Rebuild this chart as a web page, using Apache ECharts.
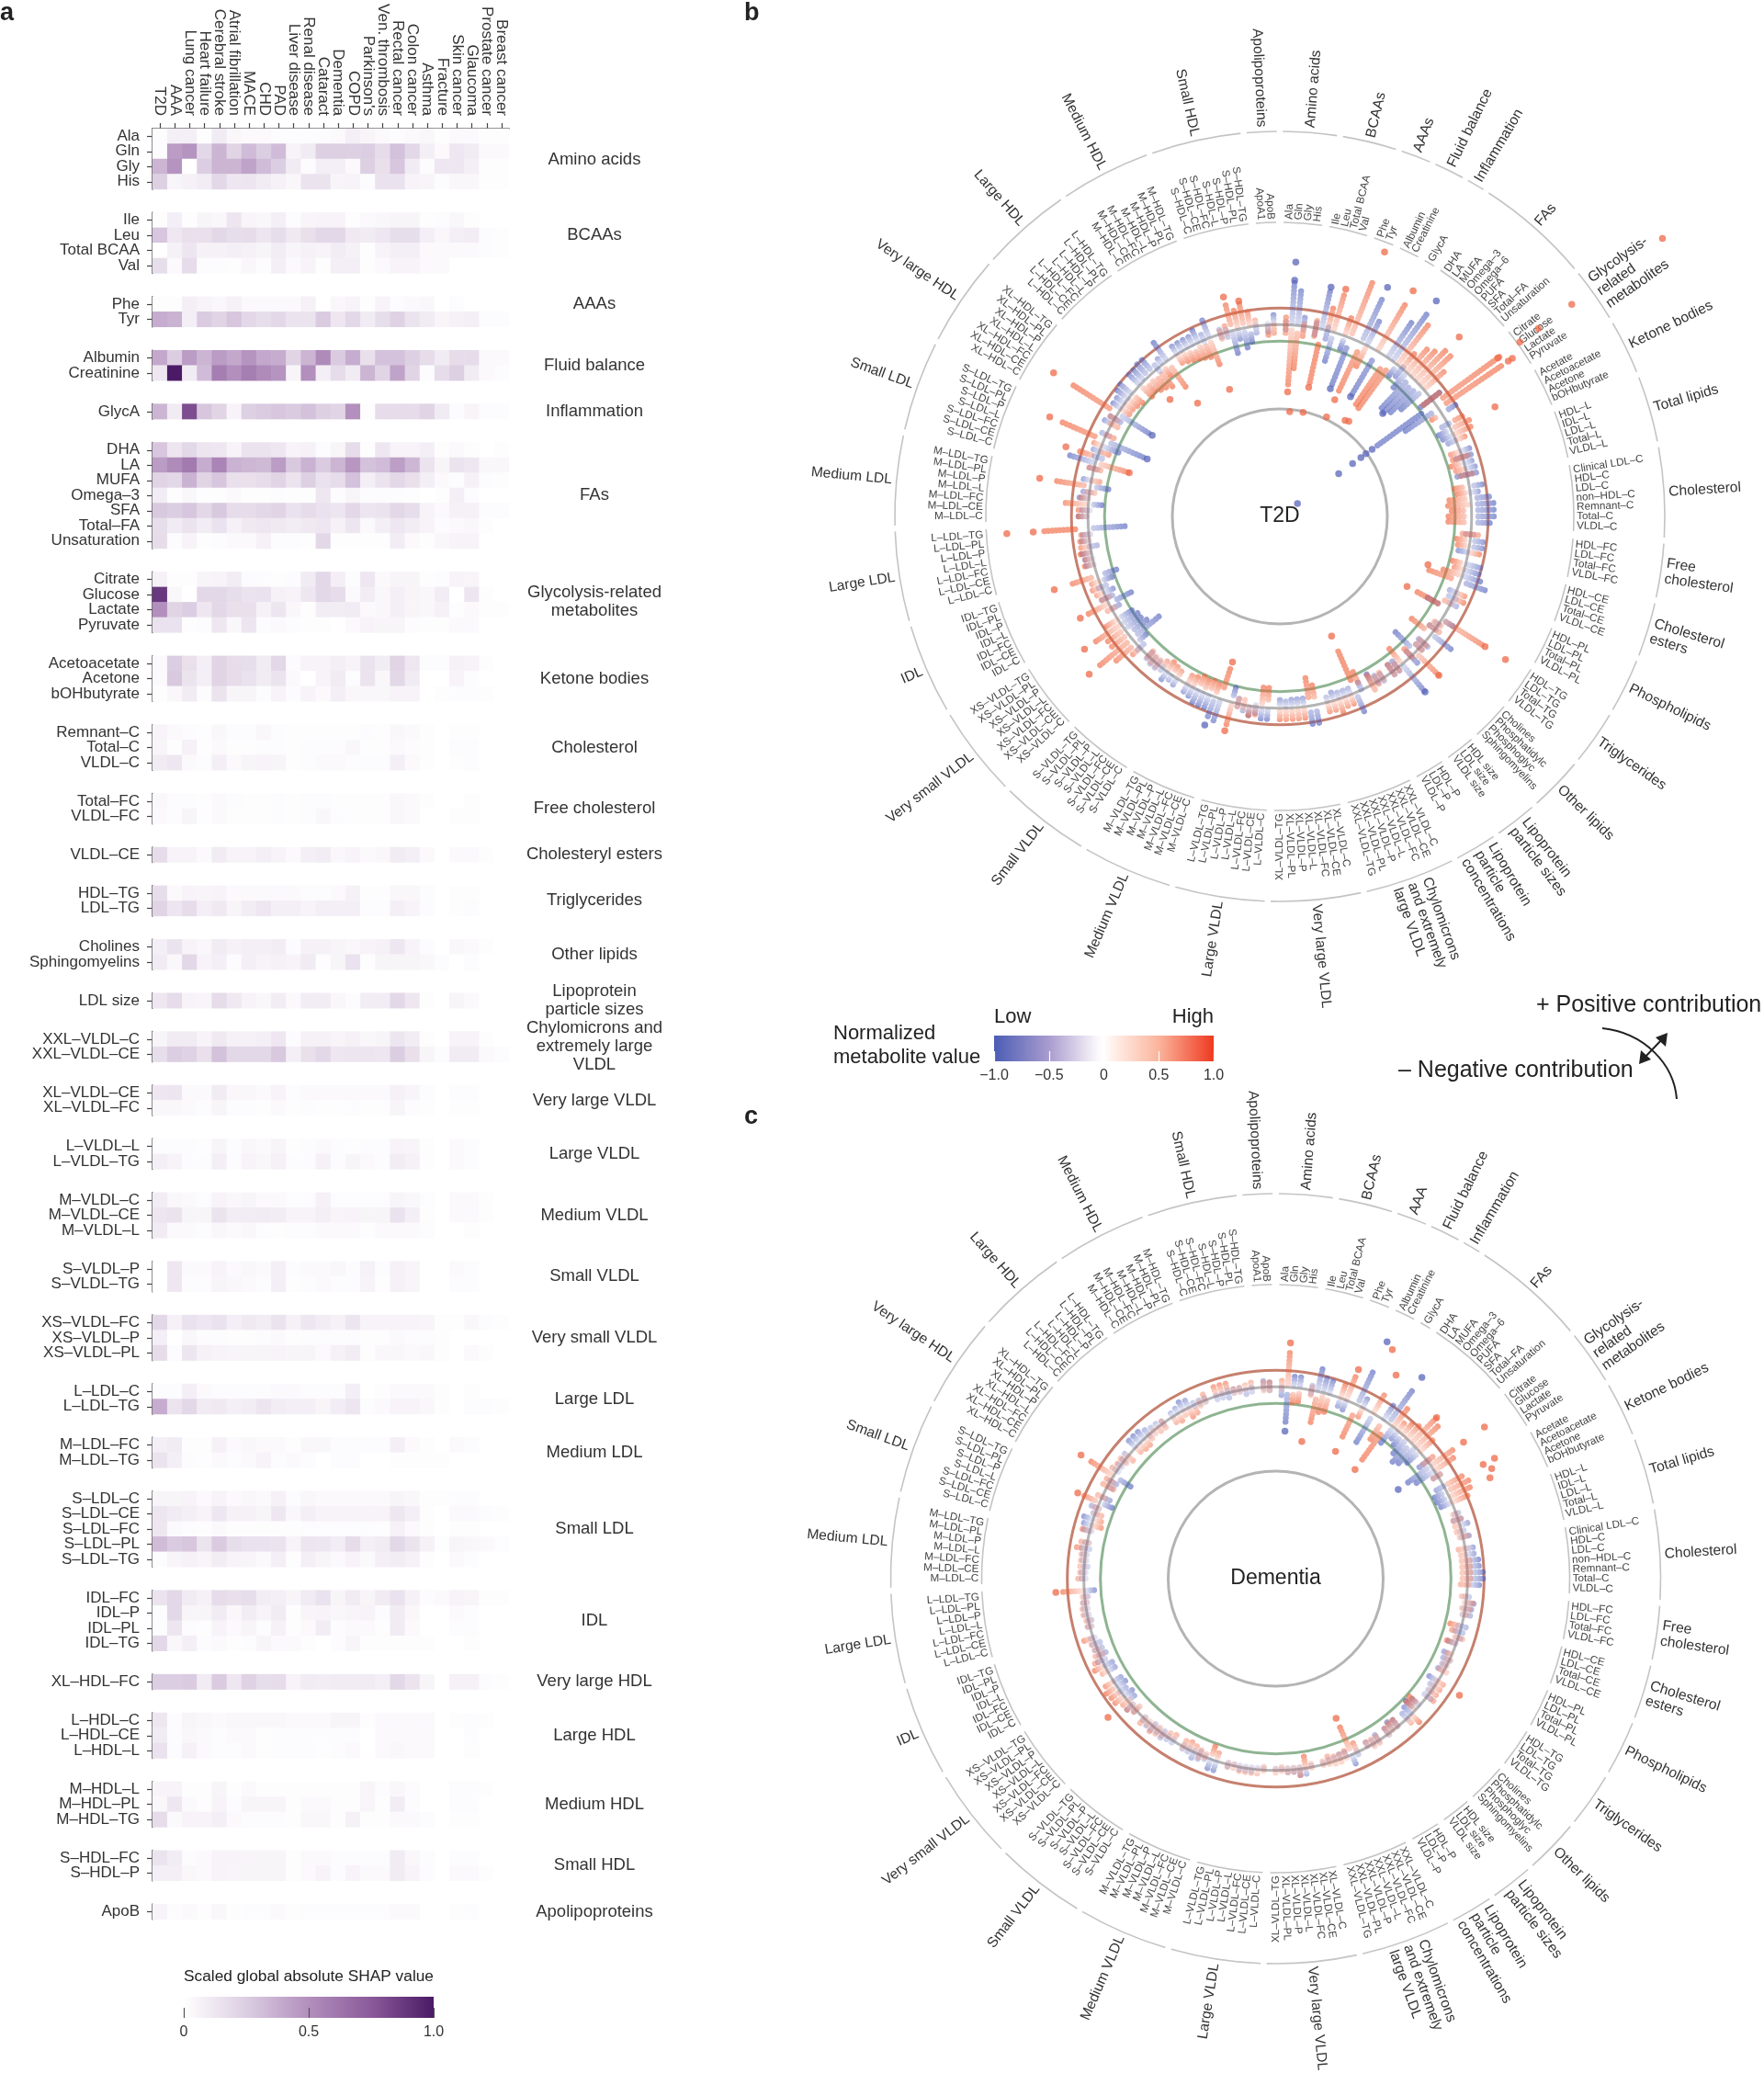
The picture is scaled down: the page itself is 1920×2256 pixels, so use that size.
<!DOCTYPE html>
<html>
<head>
<meta charset="utf-8">
<title>Metabolite SHAP overview</title>
<script src="https://cdn.jsdelivr.net/npm/echarts@6/dist/echarts.min.js"></script>
<style>
  html, body { margin: 0; padding: 0; background: #fff; }
  #chart { width: 1920px; height: 2256px; }
</style>
</head>
<body>
<div id="chart"></div>
<script>
const diseases = ['T2D', 'AAA', 'Lung cancer', 'Heart failure', 'Cerebral stroke', 'Atrial fibrillation', 'MACE', 'CHD', 'PAD', 'Liver disease', 'Renal disease', 'Cataract', 'Dementia', 'COPD', "Parkinson's", 'Ven. thrombosis', 'Rectal cancer', 'Colon cancer', 'Asthma', 'Fracture', 'Skin cancer', 'Glaucoma', 'Prostate cancer', 'Breast cancer']

// panel a: group label, row labels, scaled SHAP x100 (one list per row, one value per disease)
const aminoRows = ['Ala', 'Gln', 'Gly', 'His']
const aminoVals = [[2,8,8,1,10,4,3,3,2,2,2,2,3,8,5,3,2,3,4,1,3,3,1,1],[2,45,48,20,35,22,32,25,32,6,10,24,24,24,25,18,30,20,8,3,12,10,3,3],[35,48,0,25,35,35,42,32,25,10,2,8,8,3,24,16,28,10,2,12,12,8,1,1],[24,5,7,9,20,12,13,10,7,4,14,14,5,6,2,15,15,6,5,2,4,4,1,1]]
const bcaaRows = ['Ile', 'Leu', 'Total BCAA', 'Val']
const bcaaVals = [[1,8,1,5,4,13,5,4,8,2,5,6,6,1,3,4,5,5,1,2,4,1,0,0],[28,12,16,16,20,17,18,13,17,11,16,20,20,11,10,12,17,17,8,4,8,9,2,1],[0,7,13,7,7,8,7,5,9,5,7,6,9,7,1,6,8,8,3,3,3,3,2,1],[17,3,18,2,2,1,4,2,8,3,6,1,8,8,1,3,6,6,3,3,0,0,0,0]]
const aaaRows = ['Phe', 'Tyr']
const aaaVals = [[1,1,8,6,4,7,3,3,3,3,7,0,4,6,1,6,2,3,4,0,2,0,0,0],[38,36,8,26,22,28,20,17,20,14,14,26,12,20,10,17,23,14,10,5,7,8,2,2]]
const fluidRows = ['Albumin', 'Creatinine']
const fluidVals = [[40,25,45,35,45,40,48,40,38,22,35,52,26,38,16,30,30,24,18,10,18,18,3,3],[12,100,10,32,58,50,58,52,48,5,50,8,18,10,35,22,42,22,2,18,24,10,3,2]]
const inflamRows = ['GlycA']
const inflamVals = [[35,10,80,28,22,6,24,26,28,26,30,24,22,50,1,18,18,18,22,10,2,5,2,2]]
const faRows = ['DHA', 'LA', 'MUFA', 'Omega–3', 'SFA', 'Total–FA', 'Unsaturation']
const faVals = [[28,13,20,13,12,6,14,14,12,6,7,2,5,18,1,12,6,6,8,1,3,1,0,1],[45,52,60,38,55,36,34,33,45,27,36,26,35,47,30,32,44,34,14,5,14,12,4,4],[22,20,36,22,28,16,16,18,22,14,24,15,18,30,8,14,20,16,8,3,2,7,2,1],[9,1,4,1,1,3,1,1,2,1,1,12,2,5,2,2,2,1,0,1,8,2,0,0],[27,25,28,20,27,18,18,20,22,15,18,15,13,20,13,14,20,17,6,3,7,7,2,2],[17,10,14,9,15,7,11,12,11,9,11,12,7,13,3,8,12,9,6,2,3,4,1,0],[18,2,6,1,2,3,3,7,2,2,1,20,1,1,1,1,9,3,1,4,6,6,0,0]]
const glycoRows = ['Citrate', 'Glucose', 'Lactate', 'Pyruvate']
const glycoVals = [[7,1,1,5,6,9,2,2,1,2,10,20,8,2,12,3,5,5,1,2,6,5,0,0],[88,4,0,20,20,17,14,15,7,6,12,20,18,3,9,4,8,5,4,9,0,13,1,0],[50,22,25,12,20,16,16,7,13,4,1,9,9,10,3,4,8,5,4,7,1,3,1,1],[15,15,1,2,12,4,13,2,3,2,1,1,0,3,6,5,5,2,1,1,3,3,0,0]]
const ketoneRows = ['Acetoacetate', 'Acetone', 'bOHbutyrate']
const ketoneVals = [[3,25,16,8,22,18,17,10,20,2,6,6,8,6,14,9,22,12,2,2,7,6,1,0],[3,27,14,8,22,18,15,10,14,3,0,6,10,2,14,4,20,10,0,0,6,2,0,0],[1,4,10,2,14,5,5,2,6,2,6,3,8,4,4,4,6,6,0,1,2,2,1,0]]
const cholRows = ['Remnant–C', 'Total–C', 'VLDL–C']
const cholVals = [[6,3,2,1,4,2,2,4,2,1,1,1,1,1,2,1,4,3,1,0,1,1,0,0],[5,1,7,1,3,1,1,2,2,1,2,2,2,4,1,1,3,2,1,0,2,2,0,0],[10,12,3,2,8,3,5,6,5,1,2,3,3,2,2,2,8,3,1,0,1,2,0,0]]
const freeRows = ['Total–FC', 'VLDL–FC']
const freeVals = [[4,2,2,1,3,2,1,1,2,1,2,2,1,1,1,1,4,3,1,0,0,1,0,0],[3,2,5,1,3,1,1,1,2,1,2,4,2,1,1,1,4,3,0,0,1,1,0,0]]
const esterRows = ['VLDL–CE']
const esterVals = [[18,6,6,3,10,6,6,8,6,3,8,9,4,6,3,4,10,8,3,0,3,3,1,0]]
const tgRows = ['HDL–TG', 'LDL–TG']
const tgVals = [[17,3,6,5,6,3,3,3,3,3,2,2,3,7,1,1,4,4,2,0,1,1,0,0],[22,13,18,8,11,5,9,12,8,8,6,8,8,8,2,2,8,6,2,0,1,2,0,0]]
const otherRows = ['Cholines', 'Sphingomyelins']
const otherVals = [[8,14,6,4,10,7,8,8,9,2,7,7,5,4,6,7,12,6,2,0,4,3,1,0],[10,4,20,6,8,2,8,6,7,6,10,1,5,15,1,5,5,5,4,2,0,2,0,0]]
const sizeRows = ['LDL size']
const sizeVals = [[12,18,6,5,18,11,6,4,9,3,9,9,4,2,9,9,20,12,1,0,5,3,0,0]]
const chyloRows = ['XXL–VLDL–C', 'XXL–VLDL–CE']
const chyloVals = [[5,10,10,6,11,7,7,8,12,2,7,7,5,7,4,5,13,9,1,0,6,6,1,0],[17,25,23,16,30,20,20,20,27,8,16,20,12,13,13,12,25,16,5,2,10,10,3,2]]
const xlVldlRows = ['XL–VLDL–CE', 'XL–VLDL–FC']
const xlVldlVals = [[12,13,3,3,10,4,4,3,6,2,3,3,3,3,3,3,7,5,2,0,2,2,0,0],[4,4,3,2,5,2,2,1,3,1,2,1,1,2,1,1,5,2,1,0,1,1,0,0]]
const lVldlRows = ['L–VLDL–L', 'L–VLDL–TG']
const lVldlVals = [[2,2,2,1,5,2,4,3,5,1,2,3,2,1,2,2,6,5,1,0,3,2,0,0],[8,6,2,2,8,2,6,4,7,2,2,7,2,5,3,2,9,7,1,0,3,2,0,0]]
const mVldlRows = ['M–VLDL–C', 'M–VLDL–CE', 'M–VLDL–L']
const mVldlVals = [[9,4,3,2,6,4,5,3,3,2,2,7,2,2,2,2,5,4,2,0,3,3,1,0],[13,14,5,5,14,9,9,10,9,6,6,8,5,6,5,5,15,8,1,0,3,3,1,0],[10,3,3,2,4,3,4,2,1,2,2,3,3,3,1,3,3,3,2,0,0,1,0,0]]
const sVldlRows = ['S–VLDL–P', 'S–VLDL–TG']
const sVldlVals = [[0,12,3,3,6,3,4,3,8,2,3,3,4,2,7,2,7,5,0,0,3,2,0,0],[0,12,2,2,5,4,3,2,8,1,2,3,2,2,6,1,7,5,0,0,2,2,0,0]]
const xsVldlRows = ['XS–VLDL–FC', 'XS–VLDL–P', 'XS–VLDL–PL']
const xsVldlVals = [[20,7,15,12,15,8,11,9,14,7,12,9,7,13,6,6,6,6,5,1,1,4,2,1],[8,0,4,2,2,1,1,2,3,1,2,2,2,2,1,1,3,2,2,1,0,0,0,0],[18,2,13,7,6,5,5,5,6,5,5,3,7,9,1,4,4,3,4,1,0,3,1,0]]
const lLdlRows = ['L–LDL–C', 'L–LDL–TG']
const lLdlVals = [[2,2,8,3,2,2,2,2,3,3,2,2,2,8,0,1,3,3,3,1,0,1,0,0],[38,14,20,10,11,8,9,13,9,8,8,5,9,13,2,3,6,6,4,1,0,2,2,1]]
const mLdlRows = ['M–LDL–FC', 'M–LDL–TG']
const mLdlVals = [[8,10,1,1,7,3,4,3,3,1,4,4,2,2,2,2,8,3,1,0,3,2,0,0],[14,8,2,1,3,2,3,6,2,3,2,0,2,2,0,0,1,1,1,1,0,0,0,0]]
const sLdlRows = ['S–LDL–C', 'S–LDL–CE', 'S–LDL–FC', 'S–LDL–PL', 'S–LDL–TG']
const sLdlVals = [[5,5,6,3,6,3,4,3,7,2,4,3,3,3,3,3,5,4,1,1,2,2,0,0],[13,10,8,6,12,7,7,5,12,4,8,6,6,6,6,6,12,8,1,0,3,3,2,1],[12,3,2,1,3,1,1,1,1,1,2,2,2,2,2,1,7,3,1,0,1,1,0,0],[32,26,28,14,26,17,15,15,14,6,13,12,9,18,8,10,20,14,7,1,5,4,3,2],[2,5,7,5,9,6,5,3,8,1,8,5,3,6,3,8,9,7,1,0,3,2,0,0]]
const idlRows = ['IDL–FC', 'IDL–P', 'IDL–PL', 'IDL–TG']
const idlVals = [[14,20,10,7,18,16,17,9,8,5,10,15,5,10,5,10,15,7,2,3,6,5,1,1],[2,20,5,5,10,4,9,6,10,1,5,6,4,5,6,2,10,4,0,0,3,2,0,0],[2,13,2,1,6,3,5,2,7,1,3,9,2,3,3,1,10,3,0,0,2,2,0,0],[20,4,8,2,3,1,2,5,3,3,1,0,2,5,1,1,1,1,1,0,0,1,0,0]]
const xlHdlRows = ['XL–HDL–FC']
const xlHdlVals = [[25,25,26,10,26,12,23,17,18,6,10,9,10,10,10,8,20,14,5,0,7,7,2,1]]
const lHdlRows = ['L–HDL–C', 'L–HDL–CE', 'L–HDL–L']
const lHdlVals = [[12,2,5,4,3,4,4,4,4,3,3,3,5,5,1,3,3,3,3,0,1,2,1,0],[10,2,4,3,2,3,3,1,2,2,2,2,2,2,0,3,3,3,3,0,0,2,0,0],[15,2,7,3,2,2,3,1,2,2,2,1,2,3,0,3,4,3,3,0,0,1,0,0]]
const mHdlRows = ['M–HDL–L', 'M–HDL–PL', 'M–HDL–TG']
const mHdlVals = [[6,6,1,1,5,1,3,1,1,1,1,1,1,1,5,2,4,2,0,0,2,2,1,0],[4,12,3,1,6,2,5,5,5,1,3,3,1,1,5,1,9,2,0,0,2,2,0,0],[18,3,6,6,8,3,2,2,2,1,4,4,1,7,1,1,3,3,2,0,1,1,0,0]]
const sHdlRows = ['S–HDL–FC', 'S–HDL–P']
const sHdlVals = [[14,9,2,3,6,6,5,5,5,1,3,3,2,2,2,2,10,4,2,0,2,2,0,0],[8,8,4,3,6,5,5,5,5,1,3,6,2,6,3,3,10,6,2,0,3,3,1,0]]
const apoRows = ['ApoB']
const apoVals = [[6,2,3,1,4,1,2,2,3,1,2,2,2,2,2,2,3,3,0,0,1,2,0,0]]

// the last value moves a group label up from the middle of its rows
const heatGroups = [
  ['Amino acids', aminoRows, aminoVals, -1], ['BCAAs', bcaaRows, bcaaVals, 8], ['AAAs', aaaRows, aaaVals, 8],
  ['Fluid balance', fluidRows, fluidVals], ['Inflammation', inflamRows, inflamVals], ['FAs', faRows, faVals],
  ['Glycolysis-related\nmetabolites', glycoRows, glycoVals], ['Ketone bodies', ketoneRows, ketoneVals],
  ['Cholesterol', cholRows, cholVals], ['Free cholesterol', freeRows, freeVals], ['Cholesteryl esters', esterRows, esterVals],
  ['Triglycerides', tgRows, tgVals], ['Other lipids', otherRows, otherVals], ['Lipoprotein\nparticle sizes', sizeRows, sizeVals],
  ['Chylomicrons and\nextremely large\nVLDL', chyloRows, chyloVals], ['Very large VLDL', xlVldlRows, xlVldlVals],
  ['Large VLDL', lVldlRows, lVldlVals], ['Medium VLDL', mVldlRows, mVldlVals], ['Small VLDL', sVldlRows, sVldlVals],
  ['Very small VLDL', xsVldlRows, xsVldlVals], ['Large LDL', lLdlRows, lLdlVals], ['Medium LDL', mLdlRows, mLdlVals],
  ['Small LDL', sLdlRows, sLdlVals], ['IDL', idlRows, idlVals], ['Very large HDL', xlHdlRows, xlHdlVals],
  ['Large HDL', lHdlRows, lHdlVals], ['Medium HDL', mHdlRows, mHdlVals], ['Small HDL', sHdlRows, sHdlVals],
  ['Apolipoproteins', apoRows, apoVals]
]

// panels b and c: metabolites clockwise from the top, one blank slot after each group
const lipoSuffix = ['C', 'CE', 'FC', 'L', 'P', 'PL', 'TG']
const lipo = prefix => lipoSuffix.map(s => prefix + '–' + s)
const ringGroups = [
  ['Amino acids', ['Ala', 'Gln', 'Gly', 'His']],
  ['BCAAs', ['Ile', 'Leu', 'Total BCAA', 'Val']],
  ['AAAs', ['Phe', 'Tyr']],
  ['Fluid balance', ['Albumin', 'Creatinine']],
  ['Inflammation', ['GlycA']],
  ['FAs', ['DHA', 'LA', 'MUFA', 'Omega–3', 'Omega–6', 'PUFA', 'SFA', 'Total–FA', 'Unsaturation']],
  ['Glycolysis-\nrelated\nmetabolites', ['Citrate', 'Glucose', 'Lactate', 'Pyruvate']],
  ['Ketone bodies', ['Acetate', 'Acetoacetate', 'Acetone', 'bOHbutyrate']],
  ['Total lipids', ['HDL–L', 'IDL–L', 'LDL–L', 'Total–L', 'VLDL–L']],
  ['Cholesterol', ['Clinical LDL–C', 'HDL–C', 'LDL–C', 'non–HDL–C', 'Remnant–C', 'Total–C', 'VLDL–C']],
  ['Free\ncholesterol', ['HDL–FC', 'LDL–FC', 'Total–FC', 'VLDL–FC']],
  ['Cholesterol\nesters', ['HDL–CE', 'LDL–CE', 'Total–CE', 'VLDL–CE']],
  ['Phospholipids', ['HDL–PL', 'LDL–PL', 'Total–PL', 'VLDL–PL']],
  ['Triglycerides', ['HDL–TG', 'LDL–TG', 'Total–TG', 'VLDL–TG']],
  ['Other lipids', ['Cholines', 'Phosphatidylc', 'Phosphoglyc', 'Sphingomyelins']],
  ['Lipoprotein\nparticle sizes', ['HDL size', 'LDL size', 'VLDL size']],
  ['Lipoprotein\nparticle\nconcentrations', ['HDL–P', 'LDL–P', 'VLDL–P']],
  ['Chylomicrons\nand extremely\nlarge VLDL', lipo('XXL–VLDL')],
  ['Very large VLDL', lipo('XL–VLDL')],
  ['Large VLDL', lipo('L–VLDL')],
  ['Medium VLDL', lipo('M–VLDL')],
  ['Small VLDL', lipo('S–VLDL')],
  ['Very small VLDL', lipo('XS–VLDL')],
  ['IDL', lipo('IDL')],
  ['Large LDL', lipo('L–LDL')],
  ['Medium LDL', lipo('M–LDL')],
  ['Small LDL', lipo('S–LDL')],
  ['Very large HDL', lipo('XL–HDL')],
  ['Large HDL', lipo('L–HDL')],
  ['Medium HDL', lipo('M–HDL')],
  ['Small HDL', lipo('S–HDL')],
  ['Apolipoproteins', ['ApoA1', 'ApoB']]
]

// SHAP x100 per metabolite: low-value range [lo, hi], high-value range [lo, hi]
const t2dRanges = [
  [-15,10,-25,30],[10,135,-180,-10],[10,115,-130,-15],[-10,30,-30,15],
  [-20,20,-25,25],[10,120,-165,-40],[-25,15,10,70],[-90,-10,10,125],
  [-40,-10,10,60],[-150,-30,15,190],
  [15,155,-160,-30],[10,90,-70,-10],
  [-150,-30,10,165],
  [10,130,-170,-30],[10,175,-175,-30],[-40,-10,10,155],[-30,10,10,60],[-60,-10,10,100],[-130,-20,10,110],[-135,-20,10,130],[-120,-20,10,135],[-90,-15,10,90],
  [-40,40,-30,30],[-215,-50,30,245],[-120,-20,30,235],[25,55,-35,-15],
  [-20,15,25,60],[-40,-5,15,70],[-35,0,10,60],[-25,5,5,35],
  [5,35,-30,-5],[-20,30,-30,20],[0,35,-40,-5],[5,40,-30,5],[-30,30,-20,20],
  [15,45,-45,-15],[0,30,-40,-10],[20,65,-65,-10],[20,70,-70,-10],[20,70,-60,-15],[20,75,-70,-15],[20,60,-70,-15],
  [-15,10,-25,25],[15,50,-40,-10],[15,50,-35,-5],[-30,5,10,35],
  [10,55,-40,-10],[10,50,-30,0],[10,60,-60,-10],[20,85,-100,-25],
  [-20,5,5,30],[-15,10,10,35],[-5,20,-20,5],[-70,-25,-105,-30],
  [15,50,15,155],[-10,10,-15,15],[-20,10,-20,20],[15,80,-75,-20],
  [-20,20,-15,20],[-15,15,-15,20],[-85,-15,15,100],[-20,30,-30,15],
  [10,105,-60,-10],[-25,15,-15,20],[-25,15,-25,15],
  [-15,15,-20,10],[-20,15,-15,20],[-35,-5,-30,20],
  [-25,10,-60,-15],[15,65,-135,-40],[-20,-5,5,35],[-20,-5,5,40],[-20,-5,5,45],[-25,-5,5,40],[-15,0,5,30],
  [20,60,-60,-15],[20,60,-85,-25],[-25,-5,10,40],[-25,-8,10,45],[-25,-8,10,45],[-20,-5,10,45],[-25,-5,10,40],
  [10,35,-60,-15],[10,40,-60,-10],[-5,25,0,25],[5,35,5,30],[5,25,-15,10],[-15,10,-15,15],[-45,-15,10,70],
  [10,80,-95,-30],[15,70,-40,-10],[5,45,-45,-10],[5,45,-40,-10],[5,45,-45,-10],[5,40,-35,-10],[0,30,-30,-5],
  [10,30,-25,-5],[5,25,-30,-10],[5,30,-35,-5],[-5,15,-25,-5],[-10,15,-15,10],[-10,15,-15,15],[-15,15,-20,15],
  [-15,15,5,30],[-40,-10,20,90],[-105,-15,20,130],[-70,-15,15,70],[-60,-10,15,70],[-60,-10,10,95],[-50,-5,5,45],
  [-25,5,-10,20],[-75,-20,10,70],[-20,20,-10,25],[-30,-5,10,30],[-15,15,5,30],[-40,-10,0,35],[-60,-15,20,90],
  [0,30,5,35],[0,25,10,30],[5,30,10,35],[-20,10,5,30],[0,25,5,30],[-5,25,0,25],[-110,-15,40,140],
  [5,30,5,30],[-5,20,5,35],[-40,-10,10,80],[5,30,0,25],[-5,30,-15,10],[-55,-10,20,105],[0,30,-25,5],
  [-10,20,-20,20],[10,85,-100,-10],[-15,20,20,60],[-5,25,-30,5],[-55,-5,0,35],[-130,-15,30,140],[-10,20,-25,10],
  [0,30,-20,15],[-20,20,-10,25],[-110,-10,30,165],[5,35,-30,0],[5,40,-30,-5],[5,45,-35,-5],[10,55,-40,-10],
  [10,50,-50,-10],[10,50,-45,-10],[15,60,-55,-10],[15,55,-60,-15],[-10,15,-70,-15],[10,30,-40,-10],[10,70,-95,-15],
  [5,30,-30,-5],[5,35,-35,-5],[5,35,-40,-10],[5,40,-45,-10],[5,45,-50,-10],[-5,20,-55,-15],[10,65,-85,-10],
  [-10,15,-15,15],[-15,10,-5,30],[-70,-10,20,85],[-30,0,10,60],[-60,-10,15,75],[-45,-10,10,55],[-20,5,5,25],
  [-20,5,-30,-5],[5,35,-25,10]
]
const demRanges = [
  [-25,5,-5,25],[-105,-20,10,110],[10,35,-45,-10],[10,40,-40,-10],
  [-10,15,-15,10],[10,70,-95,-20],[10,50,-60,-10],[5,45,-55,-10],
  [-25,-5,5,45],[-30,-5,5,80],
  [15,115,-105,-25],[5,40,-30,-5],
  [-100,-10,5,75],
  [5,60,-70,-15],[15,125,-135,-30],[-60,-10,10,70],[-30,0,5,30],[-40,-5,5,45],[-60,-10,5,60],[-80,-10,10,110],[-70,-10,10,95],[-50,-5,5,60],
  [-30,10,-15,30],[-85,-10,10,90],[-65,-5,10,75],[-15,10,-15,15],
  [-25,10,15,70],[-40,-10,15,80],[-40,-10,10,70],[-35,-5,5,55],
  [-5,15,-10,5],[-15,20,-15,15],[0,25,-15,5],[-5,15,-15,5],[-5,25,-10,15],
  [0,30,-20,5],[0,25,-15,5],[0,40,-15,15],[0,45,-15,20],[0,50,-15,20],[0,50,-15,20],[0,45,-20,15],
  [-5,15,-15,5],[0,25,-5,20],[-5,25,-10,15],[-5,20,-5,15],
  [-10,20,-35,-5],[-15,15,-25,-5],[-5,15,-10,15],[-25,5,-30,-5],
  [-25,-5,-15,5],[-20,5,-10,10],[-15,5,-10,5],[-20,0,-15,10],
  [-30,-5,-5,25],[-15,5,-5,30],[-10,5,-5,30],[-10,15,0,25],
  [-30,-5,-40,-10],[-40,-10,-35,-10],[-30,5,10,35],[-20,5,5,25],
  [-25,5,-25,5],[-30,-5,-25,5],[-20,5,-20,5],
  [-20,5,-15,10],[-10,5,-15,10],[-15,5,-15,5],
  [-5,15,-30,-5],[5,40,-90,-10],[-15,0,-20,5],[-15,0,-15,10],[-10,0,-15,10],[-10,0,-20,10],[-5,5,-10,10],
  [-5,5,-10,10],[5,25,-35,5],[-5,20,-5,25],[-5,15,-5,15],[-5,10,-5,15],[-5,5,-10,10],[-5,5,-5,10],
  [-5,5,-10,10],[-5,5,0,15],[-5,10,0,20],[-5,10,0,15],[-5,15,0,20],[-5,5,-5,10],[-5,10,-5,10],
  [5,30,-25,-5],[5,30,-40,-5],[-5,10,-10,10],[-10,15,-15,10],[-5,20,-20,-5],[-5,15,-25,0],[-5,10,-20,5],
  [-5,10,-20,0],[-5,15,-15,5],[-10,15,-5,15],[-5,15,-10,15],[-10,15,-5,20],[0,15,-5,15],[-5,15,-5,20],
  [-5,15,-15,20],[-5,20,-5,30],[-25,-5,-5,30],[-30,-5,10,40],[-20,5,10,35],[-30,-5,15,40],[-25,5,5,30],
  [-25,0,5,25],[-25,5,10,35],[-10,20,0,25],[-20,10,-10,20],[-15,10,-5,15],[-15,10,0,15],[-5,15,5,30],
  [-5,10,-5,15],[-10,10,-5,15],[-5,10,0,20],[-5,10,0,15],[-5,10,-5,15],[-10,5,-5,10],[-30,-5,5,70],
  [-5,15,5,25],[-5,15,0,15],[-10,10,0,20],[-5,10,0,15],[-5,15,0,15],[-10,15,5,30],[-5,15,-5,20],
  [-5,20,0,25],[0,30,-30,-5],[5,35,-25,-5],[-5,10,-20,5],[-5,20,-5,15],[-40,-10,15,60],[-25,5,-10,20],
  [-15,5,-20,20],[-20,10,-10,25],[-60,-15,10,85],[-5,10,5,25],[-5,15,0,20],[-5,15,-10,15],[0,20,-20,5],
  [5,30,-20,-5],[5,35,-25,-5],[5,30,-25,-5],[-5,20,-15,5],[0,15,-10,5],[0,15,-15,5],[-5,15,-15,10],
  [0,20,-20,-5],[5,25,-25,-5],[5,30,-15,0],[0,25,-30,-5],[-5,15,-25,-5],[-5,15,-10,10],[-5,15,-5,20],
  [-10,10,5,30],[-10,10,5,35],[-15,10,5,30],[-5,15,-5,15],[-5,10,-5,15],[-15,5,0,15],[-10,10,5,20],
  [-5,20,-10,15],[-10,20,-10,25]
]

// separate dots beyond the dense part: [slot, SHAP x100]
const t2dHighDots = [[2,-203],[3,-262],[7,-258],[7,-180],[14,-248],[14,-190],[19,-229],[20,-225],[9,135],[12,280],[17,212],[25,187],[30,235],[30,317],[30,386],[30,511],[30,850],[31,255],[31,270],[35,150],[60,-109],[66,-141],[68,155],[68,228],[75,100],[87,-186],[108,89],[110,-117],[128,168],[131,134],[135,97],[140,137],[148,167],[148,247],[155,155],[159,-106],[160,100],[163,178],[168,230],[176,-95],[180,-157],[188,-167],[192,105],[194,83]]
const t2dLowDots = [[2,135],[2,190],[7,130],[12,-165],[14,185],[17,-160],[20,225],[25,-140],[30,-235],[30,-258],[30,-277],[30,-308],[30,-360],[30,-514],[78,109],[111,90],[163,-143],[168,-123]]
const demHighDots = [[2,134],[6,-158],[12,100],[14,-155],[15,197],[17,135],[20,-172],[25,108],[30,122],[30,200],[34,136],[34,175],[35,153],[36,136],[68,78],[87,-120],[128,78],[148,86],[163,72],[168,117]]
const demLowDots = [[2,-133],[14,211],[20,172],[30,-122]]

const ringLevels = [-255, -50, 0, 50]
const ringColors = ['#b4b4b4', '#8fb492', '#b4b4b4', '#c6806e']
const heatLegendRange = [0, 1]
const metaboliteLegendRange = [-1, 1]

const fontFamily = '"Liberation Sans", Arial, sans-serif'
const heatStops = [[0, '#ffffff'], [0.25, '#dccee2'], [0.5, '#b28fbd'], [0.75, '#8a5a9a'], [1, '#4a1a66']]
const metaboliteStops = [[0, '#4b5db5'], [0.25, '#a99ccf'], [0.47, '#fbf8fb'], [0.5, '#ffffff'], [0.53, '#fff4ef'], [0.75, '#fbb49c'], [1, '#ee3a20']]
const gradientStops = stops => stops.map(s => ({ offset: s[0], color: s[1] }))

const grids = [], xAxes = [], yAxes = [], series = [], elements = []

// panel a, one grid per group
const rowStep = 16.5, groupGap = 25.4
let cursorY = 140
heatGroups.forEach((group, g) => {
  const rows = group[1], vals = group[2]
  const height = rows.length * rowStep
  grids.push({ left: 166, top: cursorY, width: 388, height: height })
  xAxes.push({
    gridIndex: g, type: 'category', data: diseases, position: 'top', show: g === 0,
    axisLine: { show: true, lineStyle: { color: '#444', width: 1.6 } },
    axisTick: { show: true, alignWithLabel: true, length: 6, lineStyle: { color: '#444', width: 1.2 } },
    axisLabel: { rotate: 90, interval: 0, fontSize: 17, color: '#333', margin: 14, fontFamily }
  })
  yAxes.push({
    gridIndex: g, type: 'category', data: rows, inverse: true,
    axisLine: { show: true, lineStyle: { color: '#444', width: 1.6 } },
    axisTick: { show: true, alignWithLabel: true, length: 6, lineStyle: { color: '#444', width: 1.2 } },
    axisLabel: { interval: 0, fontSize: 17, color: '#333', margin: 14, fontFamily }
  })
  const data = []
  vals.forEach((row, r) => row.forEach((v, c) => data.push([c, r, v])))
  series.push({
    type: 'heatmap', xAxisIndex: g, yAxisIndex: g, data: data, silent: true,
    emphasis: { disabled: true }, itemStyle: { borderWidth: 0 }
  })
  elements.push({
    type: 'text', x: 647, y: cursorY + height / 2 - (group[3] || 0), silent: true,
    style: { text: group[0], fill: '#333', font: '18.5px ' + fontFamily, align: 'center', verticalAlign: 'middle', lineHeight: 20 }
  })
  cursorY += height + groupGap
})
const heatSeriesIndex = series.map((s, i) => i)

// colour bars get a small grid of their own so the ticks come from a real axis
function colorBar(range, stops, box, tickColor, tickLength, formatter, interval) {
  const index = grids.length
  grids.push(box)
  xAxes.push({
    gridIndex: index, type: 'value', min: range[0], max: range[1], interval: interval, z: 10,
    splitLine: { show: false }, axisLine: { show: false },
    axisTick: { show: true, inside: true, length: tickLength, lineStyle: { color: tickColor, width: 1.2 } },
    axisLabel: { fontSize: 16, color: '#333', margin: 8, formatter: formatter, fontFamily, hideOverlap: false }
  })
  yAxes.push({ gridIndex: index, type: 'value', min: 0, max: 1, show: false })
  series.push({
    type: 'custom', xAxisIndex: index, yAxisIndex: index, silent: true, data: [[range[0], range[1]]],
    renderItem: (params, api) => {
      const a = api.coord([api.value(0), 1]), b = api.coord([api.value(1), 0])
      return {
        type: 'rect',
        shape: { x: a[0], y: a[1], width: b[0] - a[0], height: b[1] - a[1] },
        style: { fill: new echarts.graphic.LinearGradient(0, 0, 1, 0, gradientStops(stops)) }
      }
    }
  })
}
colorBar(heatLegendRange, heatStops, { left: 200, top: 2173, width: 272, height: 23 }, '#555', 11,
  v => (v === 1 ? '1.0' : String(v)), 0.5)
colorBar(metaboliteLegendRange, metaboliteStops, { left: 1082, top: 1127, width: 239, height: 28 }, '#fff', 11,
  v => (v === 0 ? '0' : (v < 0 ? '−' : '') + Math.abs(v).toFixed(1)), 0.5)

// panels b and c share the slot layout
const slotCount = 200
const metaboliteLabels = [], outerLabels = [], arcs = []
let slot = 1
ringGroups.forEach(group => {
  const first = slot
  group[1].forEach(name => { metaboliteLabels.push({ name, slot }); slot += 1 })
  const last = slot - 1
  arcs.push({ from: first - 0.6, to: last + 0.6, r: 309 })
  arcs.push({ from: first - 0.75, to: last + 0.75, r: 584 })
  outerLabels.push({ name: group[0], slot: (first + last) / 2 })
  slot += 1
})
const slotsOfMetabolites = metaboliteLabels.map(m => m.slot)

function slotToCanvasAngle(s) { return s / slotCount * Math.PI * 2 - Math.PI / 2 }

function radialText(api, item, radius, font, color) {
  const p = api.coord([radius, item.slot])
  const theta = item.slot / slotCount * 360
  const right = theta < 180
  return {
    type: 'text', x: p[0], y: p[1], rotation: (right ? 90 - theta : 270 - theta) * Math.PI / 180,
    style: { text: item.name, fill: color, font: font, align: right ? 'left' : 'right', verticalAlign: 'middle', lineHeight: 17 }
  }
}

function streakStops(lo, hi, rgb) {
  const alpha = v => Math.min(0.62, 0.1 + Math.abs(v) / 30 * 0.42)
  return [
    { offset: 0, color: `rgba(${rgb},${alpha(lo)})` },
    { offset: 1, color: `rgba(${rgb},${alpha(hi)})` }
  ]
}

function addRing(index, center, ranges, highDots, lowDots, name, outerNames) {
  const polar = { center: center, radius: [0, 532.8] }
  const angleAxis = { polarIndex: index, type: 'value', min: 0, max: slotCount, startAngle: 90, clockwise: true, show: false }
  const radiusAxis = { polarIndex: index, type: 'value', min: -580, max: 900, show: false }
  const base = { type: 'custom', coordinateSystem: 'polar', polarIndex: index, silent: true, clip: false }

  series.push(Object.assign({}, base, {
    z: 2, data: ringLevels.map(v => [v, 0]),
    renderItem: (params, api) => {
      const p = api.coord([api.value(0), 0]), c = params.coordSys
      return {
        type: 'circle', shape: { cx: c.cx, cy: c.cy, r: Math.hypot(p[0] - c.cx, p[1] - c.cy) },
        style: { fill: 'none', stroke: ringColors[params.dataIndex], lineWidth: 3 }
      }
    }
  }))
  series.push(Object.assign({}, base, {
    z: 2, data: arcs.map(a => [a.r, a.from]),
    renderItem: (params, api) => {
      const a = arcs[params.dataIndex], c = params.coordSys
      const p = api.coord([a.r, a.from])
      return {
        type: 'arc',
        shape: { cx: c.cx, cy: c.cy, r: Math.hypot(p[0] - c.cx, p[1] - c.cy), startAngle: slotToCanvasAngle(a.from), endAngle: slotToCanvasAngle(a.to), clockwise: true },
        style: { fill: 'none', stroke: '#c4c4c4', lineWidth: 1.6 }
      }
    }
  }))
  series.push(Object.assign({}, base, {
    z: 2, data: metaboliteLabels.map(m => [318, m.slot]),
    renderItem: (params, api) => radialText(api, metaboliteLabels[params.dataIndex], 318, '11.7px ' + fontFamily, '#444')
  }))
  series.push(Object.assign({}, base, {
    z: 2, data: outerLabels.map(o => [598, o.slot]),
    renderItem: (params, api) => radialText(api, { name: outerNames[params.dataIndex], slot: outerLabels[params.dataIndex].slot }, 598, '15.6px ' + fontFamily, '#333')
  }))

  // one beaded streak per metabolite and colour
  const streak = (loAt, hiAt, rgb) => Object.assign({}, base, {
    z: 3, data: ranges.map((r, i) => [r[loAt], slotsOfMetabolites[i], r[hiAt]]),
    renderItem: (params, api) => {
      const lo = api.value(0), at = api.value(1), hi = api.value(2)
      const a = api.coord([lo, at]), b = api.coord([hi, at])
      return {
        type: 'line', shape: { x1: a[0], y1: a[1], x2: b[0], y2: b[1] },
        style: { stroke: new echarts.graphic.LinearGradient(a[0], a[1], b[0], b[1], streakStops(lo, hi, rgb), true), lineWidth: 6.5, lineCap: 'round', lineDash: [0.01, 4.2] }
      }
    }
  })
  series.push(streak(0, 1, '80,96,188'))
  series.push(streak(2, 3, '240,98,58'))

  const dots = (data, color) => ({
    type: 'scatter', coordinateSystem: 'polar', polarIndex: index, silent: true, z: 4, symbolSize: 7.5,
    data: data.map(d => [d[1], d[0]]), itemStyle: { color: color, opacity: 0.75 }
  })
  series.push(dots(highDots, '#ee6a48'))
  series.push(dots(lowDots, '#5a66ba'))
  elements.push({
    type: 'text', x: center[0], y: center[1], silent: true,
    style: { text: name, fill: '#222', font: '23px ' + fontFamily, align: 'center', verticalAlign: 'middle' }
  })
  return { polar, angleAxis, radiusAxis }
}

const namesB = outerLabels.map(o => o.name)
const namesC = namesB.map(n => (n === 'AAAs' ? 'AAA' : n))
const ringB = addRing(0, [1393, 562], t2dRanges, t2dHighDots, t2dLowDots, 'T2D', namesB)
const ringC = addRing(1, [1388.5, 1718], demRanges, demHighDots, demLowDots, 'Dementia', namesC)

function addText(text, x, y, size, align, weight) {
  elements.push({
    type: 'text', x: x, y: y, silent: true,
    style: { text: text, fill: '#222', font: (weight || '') + ' ' + size + 'px ' + fontFamily, align: align || 'left', verticalAlign: 'middle', lineHeight: 26 }
  })
}
addText('a', 0, 15, 27, 'left', 'bold')
addText('b', 810, 15, 27, 'left', 'bold')
addText('c', 810, 1216, 27, 'left', 'bold')
addText('Scaled global absolute SHAP value', 336, 2151, 17.3, 'center')
addText('Normalized\nmetabolite value', 907, 1138, 22)
addText('Low', 1082, 1107, 22)
addText('High', 1321, 1107, 22, 'right')
addText('+ Positive contribution', 1672, 1094, 25)
addText('– Negative contribution', 1522, 1165, 25)

elements.push({
  type: 'bezierCurve', silent: true,
  shape: { x1: 1744, y1: 1119, cpx1: 1790, cpy1: 1124, cpx2: 1822, cpy2: 1158, x2: 1825, y2: 1196 },
  style: { fill: 'none', stroke: '#222', lineWidth: 2 }
})
elements.push({ type: 'line', silent: true, shape: { x1: 1788, y1: 1153, x2: 1811, y2: 1129 }, style: { stroke: '#222', lineWidth: 2 } })
elements.push({ type: 'polygon', silent: true, shape: { points: [[1784, 1158], [1786, 1143], [1797, 1153]] }, style: { fill: '#222' } })
elements.push({ type: 'polygon', silent: true, shape: { points: [[1815, 1124], [1813, 1139], [1802, 1129]] }, style: { fill: '#222' } })

const chart = echarts.init(document.getElementById('chart'))
chart.setOption({
  animation: false,
  backgroundColor: '#fff',
  textStyle: { fontFamily },
  grid: grids,
  xAxis: xAxes,
  yAxis: yAxes,
  polar: [ringB.polar, ringC.polar],
  angleAxis: [ringB.angleAxis, ringC.angleAxis],
  radiusAxis: [ringB.radiusAxis, ringC.radiusAxis],
  visualMap: {
    show: false, type: 'continuous', seriesIndex: heatSeriesIndex, min: 0, max: 100,
    inRange: { color: heatStops.map(s => s[1]) }
  },
  series: series,
  graphic: { elements: elements }
})
</script>
</body>
</html>
